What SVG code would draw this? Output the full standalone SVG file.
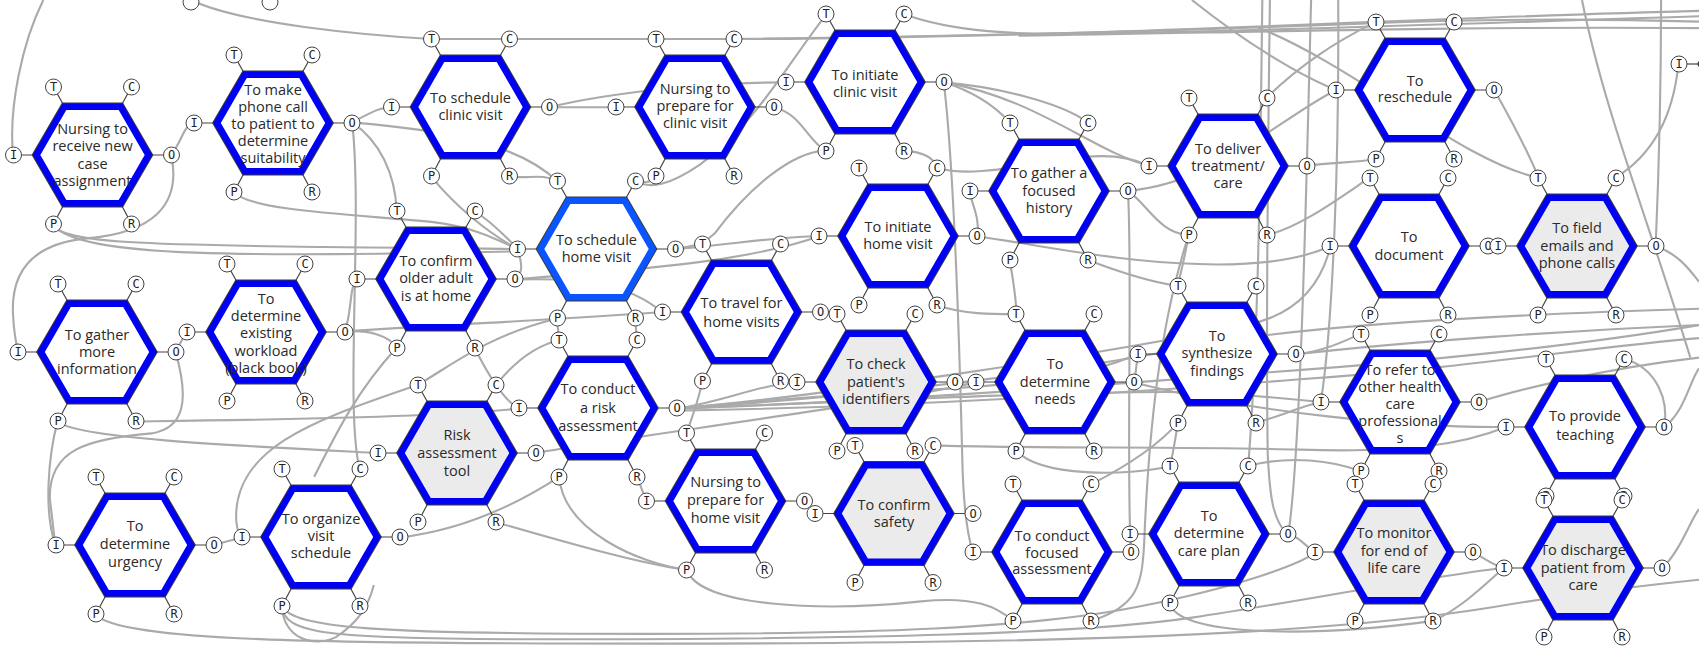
<svg xmlns="http://www.w3.org/2000/svg" xmlns:xlink="http://www.w3.org/1999/xlink" width="1699" height="649" viewBox="0 0 1699 649">
<style>
.ho{fill:none;stroke:#3a3a3a;stroke-width:8.5;stroke-linejoin:miter}
.hb{fill:#fff;stroke:#0000f5;stroke-width:6.5;stroke-linejoin:miter}
.hl{fill:#fff;stroke:#0a55ff;stroke-width:6.5;stroke-linejoin:miter}
.hgr{fill:#ebebeb;stroke:#0000f5;stroke-width:6.5;stroke-linejoin:miter}
.hgn{fill:#fff;stroke:#1f8a1f;stroke-width:6.5}
.st{stroke:#444;stroke-width:1.2;fill:none}
.pc{fill:#fff;stroke:#444;stroke-width:1}
.pl{font-family:"DejaVu Sans Mono",monospace;font-size:12px;text-anchor:middle;fill:#222}
.nt{font-family:"Open Sans","Liberation Sans",sans-serif;font-size:14.5px;text-anchor:middle;fill:#2a2a2a}
#connectors path{fill:none;stroke:#aaa;stroke-width:1.95}
</style>
<defs>
<polygon id="hx" points="-56,0 -28,-48.3 28,-48.3 56,0 28,48.3 -28,48.3"/>
<path id="stubs" class="st" d="M-39,-68L-28,-48.3M39,-68L28,-48.3M-79,0L-56,0M79,0L56,0M-39,69L-28,48.3M39,69L28,48.3"/>
<g id="ports">
<circle class="pc" cx="-39" cy="-68" r="8"/><circle class="pc" cx="39" cy="-68" r="8"/>
<circle class="pc" cx="-79" cy="0" r="8"/><circle class="pc" cx="79" cy="0" r="8"/>
<circle class="pc" cx="-39" cy="69" r="8"/><circle class="pc" cx="39" cy="69" r="8"/>
<text class="pl" x="-39" y="-63.7">T</text><text class="pl" x="39" y="-63.7">C</text>
<text class="pl" x="-79" y="4.3">I</text><text class="pl" x="79" y="4.3">O</text>
<text class="pl" x="-39" y="73.3">P</text><text class="pl" x="39" y="73.3">R</text>
</g>
</defs>
<rect width="1699" height="649" fill="#fff"/>
<g id="connectors" transform="scale(1.08355)">
<path d="M183,3 C230,22 330,32 398,36"/>
<path d="M398,36 L470,36 L605,36 L677,36 C800,36 900,33 1000,30 C1200,24 1400,14 1568,10"/>
<path d="M834,13 C880,30 940,32 1000,31 C1200,28 1400,20 1568,15"/>
<path d="M677,36 C850,34 1050,30 1250,22 C1400,16 1500,18 1568,20"/>
<path d="M940,33 C1150,30 1350,24 1568,26"/>
<path d="M40,0 C20,40 8,100 12,143"/>
<path d="M158,143 C168,130 170,115 179,113"/>
<path d="M158,143 C168,190 140,215 80,220 C30,225 10,250 12,290 C13,310 15,318 17,325"/>
<path d="M49,207 C55,225 150,226 300,228 C400,229 450,229 478,230"/>
<path d="M49,207 C70,240 250,236 478,232"/>
<path d="M325,113 C340,105 350,99 361,99"/>
<path d="M507,99 L568,99"/>
<path d="M507,99 C560,86 650,76 725,76"/>
<path d="M714,99 C740,105 745,130 762,139"/>
<path d="M763,13 C729,55 701,111 646,152 C618,171 600,175 586,167"/>
<path d="M871,76 C920,80 980,95 1004,113"/>
<path d="M871,76 C900,85 920,100 932,113"/>
<path d="M871,76 C880,150 885,300 888,420 C889,470 893,495 898,510"/>
<path d="M871,76 C955,90 1010,140 1060,153"/>
<path d="M325,113 C380,118 470,125 514,167"/>
<path d="M325,113 C350,130 365,160 366,195"/>
<path d="M325,113 C335,200 318,380 332,433"/>
<path d="M470,163 C490,165 500,160 514,167"/>
<path d="M398,163 C420,190 450,215 478,230"/>
<path d="M438,195 C455,205 470,222 478,230"/>
<path d="M216,177 C230,195 330,198 400,205 C440,210 460,222 478,230"/>
<path d="M623,230 C680,225 720,218 756,218"/>
<path d="M623,230 L648,225"/>
<path d="M757,288 L772,290"/>
<path d="M720,352 L736,353"/>
<path d="M881,353 L901,353"/>
<path d="M742,462 L752,474"/>
<path d="M1047,353 L1050,327"/>
<path d="M1373,227 L1383,227"/>
<path d="M1360,510 C1370,515 1378,522 1388,524"/>
<path d="M514,294 L516,314"/>
<path d="M586,294 L588,314"/>
<path d="M648,352 C645,370 638,385 634,400"/>
<path d="M588,440 C592,450 594,458 597,462"/>
<path d="M458,482 C520,500 590,520 634,526"/>
<path d="M634,526 C645,560 760,565 850,555 C900,550 920,560 935,573"/>
<path d="M197,503 L223,496"/>
<path d="M162,325 L172,306"/>
<path d="M162,325 C175,370 170,395 140,400 C80,405 45,415 46,460 L51,503"/>
<path d="M53,389 C45,420 40,470 51,503"/>
<path d="M53,389 C70,405 230,412 349,418"/>
<path d="M125,389 C200,388 400,386 479,377"/>
<path d="M318,306 C325,290 322,262 330,258"/>
<path d="M318,306 C340,304 360,310 366,321"/>
<path d="M318,306 C400,300 520,295 611,288"/>
<path d="M438,321 C450,345 465,370 479,377"/>
<path d="M386,355 C300,385 215,410 218,480 C219,490 221,495 223,496"/>
<path d="M386,355 C420,335 450,310 514,294"/>
<path d="M458,355 C470,340 490,320 516,314"/>
<path d="M290,440 C310,400 330,360 366,321"/>
<path d="M369,496 C420,490 470,470 516,440"/>
<path d="M475,258 C540,256 580,262 611,288"/>
<path d="M475,258 C560,250 680,245 756,218"/>
<path d="M475,258 C485,250 480,240 478,230"/>
<path d="M625,377 C700,370 760,365 850,360 C950,355 1000,348 1050,327"/>
<path d="M625,377 C750,372 1000,360 1100,362 C1150,364 1190,368 1219,371"/>
<path d="M625,377 C760,368 950,350 1100,320 C1200,300 1400,290 1568,285"/>
<path d="M625,377 C760,365 1000,330 1150,300 C1200,290 1220,260 1228,227"/>
<path d="M625,377 C780,372 960,360 1150,345 C1300,335 1450,320 1568,300"/>
<path d="M625,379 C800,376 1000,366 1200,350 C1350,340 1470,320 1568,312"/>
<path d="M494,418 C600,400 800,375 901,353"/>
<path d="M625,377 C670,370 700,355 736,353"/>
<path d="M902,218 C950,225 1000,235 1050,240 C1150,250 1200,240 1228,227"/>
<path d="M902,218 C905,200 895,185 895,176"/>
<path d="M1041,176 C1060,190 1070,215 1097,217"/>
<path d="M1041,176 C1120,170 1180,110 1233,83"/>
<path d="M1206,153 C1230,150 1250,150 1270,147"/>
<path d="M1270,20 C1230,40 1200,60 1169,90"/>
<path d="M1100,0 C1150,40 1200,70 1233,83"/>
<path d="M1379,83 C1400,120 1410,140 1420,164"/>
<path d="M1528,227 C1550,235 1560,250 1568,260"/>
<path d="M1196,327 C1220,325 1240,315 1256,308"/>
<path d="M1196,327 C1300,315 1450,305 1568,300"/>
<path d="M1365,371 C1400,360 1480,340 1568,330"/>
<path d="M1047,353 C1150,380 1300,395 1390,394"/>
<path d="M1536,394 C1555,380 1560,350 1568,340"/>
<path d="M1189,493 C1200,495 1205,505 1214,510"/>
<path d="M1189,493 C1200,420 1205,200 1210,0"/>
<path d="M1080,557 C1085,585 1200,590 1323,573"/>
<path d="M88,567 C110,592 300,594 600,594 C900,594 1200,590 1380,560 C1450,548 1520,540 1568,535"/>
<path d="M260,559 C262,585 300,590 500,590 C800,590 1000,585 1100,570 C1200,555 1300,535 1388,524"/>
<path d="M260,559 C270,580 350,585 600,585 C800,585 950,580 1050,560 C1150,540 1200,520 1214,510"/>
<path d="M260,559 C262,590 290,598 310,588 C330,575 340,560 345,540"/>
<path d="M1044,510 L1043,493"/>
<path d="M1041,176 C1045,250 1040,400 1043,493"/>
<path d="M1097,217 C1070,300 1060,400 1056,500 C1054,540 1050,560 1007,573"/>
<path d="M1165,0 C1163,150 1162,300 1152,430"/>
<path d="M1172,0 C1170,150 1168,300 1170,420 C1172,460 1175,480 1188,493"/>
<path d="M1235,0 C1236,150 1230,300 1219,371"/>
<path d="M1499,331 C1530,340 1540,370 1536,394"/>
<path d="M1160,25 C1250,60 1350,150 1420,164"/>
<path d="M1460,0 C1480,100 1520,200 1560,330"/>
<path d="M1549,59 C1545,100 1530,140 1491,164"/>
<path d="M1533,0 C1533,80 1530,180 1528,227"/>
<path d="M1007,447 C1040,430 1070,410 1087,390"/>
<path d="M1087,390 C1085,405 1082,420 1080,430"/>
<path d="M1159,390 C1180,385 1200,375 1219,371"/>
<path d="M1152,430 C1190,420 1230,425 1256,435"/>
<path d="M1534,524 C1550,510 1560,480 1568,470"/>
<path d="M1323,573 C1350,560 1370,540 1388,524"/>
<path d="M938,416 C960,440 1040,440 1080,430"/>
<path d="M861,411 C950,414 1100,412 1200,415 C1300,418 1350,410 1390,394"/>
<path d="M516,440 C520,490 590,520 634,526"/>
<path d="M865,282 C890,290 915,290 938,290"/>
<path d="M932,240 C935,260 938,275 938,290"/>
<path d="M1004,240 C1030,250 1060,260 1087,264"/>
<path d="M1097,217 C1094,235 1090,250 1087,264"/>
<path d="M1169,217 C1200,210 1240,180 1264,164"/>
<path d="M605,163 C600,170 592,168 586,167"/>
<path d="M834,139 C850,140 862,145 865,155"/>
<path d="M762,139 C730,140 690,175 660,215 L648,225"/>
<path d="M865,155 C900,165 950,150 1000,145 C1030,142 1050,148 1060,153"/>
</g>
<g id="partial-top">
<circle class="pc" cx="191" cy="2" r="8"/><circle class="pc" cx="270" cy="2" r="8"/>
</g>
<g id="partial-right" transform="translate(1758,64)">
<path class="st" d="M-79,0L-56,0"/>
<use xlink:href="#hx" class="ho"/><use xlink:href="#hx" class="hgn"/>
<circle class="pc" cx="-79" cy="0" r="8"/><text class="pl" x="-79" y="4.3">I</text>
</g>
<g id="n1" transform="translate(92.5,155)"><use xlink:href="#stubs"/><use xlink:href="#hx" class="ho"/><use xlink:href="#hx" class="hb"/><use xlink:href="#ports"/><text class="nt" y="-21.1"><tspan x="0">Nursing to</tspan><tspan x="0" dy="17.4">receive new</tspan><tspan x="0" dy="17.4">case</tspan><tspan x="0" dy="17.4">assignment</tspan></text></g>
<g id="n2" transform="translate(273,123)"><use xlink:href="#stubs"/><use xlink:href="#hx" class="ho"/><use xlink:href="#hx" class="hb"/><use xlink:href="#ports"/><text class="nt" y="-28.5"><tspan x="0">To make</tspan><tspan x="0" dy="17.2">phone call</tspan><tspan x="0" dy="17.2">to patient to</tspan><tspan x="0" dy="17.2">determine</tspan><tspan x="0" dy="17.2">suitability</tspan></text></g>
<g id="n3" transform="translate(470.5,107)"><use xlink:href="#stubs"/><use xlink:href="#hx" class="ho"/><use xlink:href="#hx" class="hb"/><use xlink:href="#ports"/><text class="nt" y="-4.3"><tspan x="0">To schedule</tspan><tspan x="0" dy="17.4">clinic visit</tspan></text></g>
<g id="n4" transform="translate(436,279)"><use xlink:href="#stubs"/><use xlink:href="#hx" class="ho"/><use xlink:href="#hx" class="hb"/><use xlink:href="#ports"/><text class="nt" y="-13"><tspan x="0">To confirm</tspan><tspan x="0" dy="17.4">older adult</tspan><tspan x="0" dy="17.4">is at home</tspan></text></g>
<g id="n5" transform="translate(266,332)"><use xlink:href="#stubs"/><use xlink:href="#hx" class="ho"/><use xlink:href="#hx" class="hb"/><use xlink:href="#ports"/><text class="nt" y="-28.5"><tspan x="0">To</tspan><tspan x="0" dy="17.4">determine</tspan><tspan x="0" dy="17.4">existing</tspan><tspan x="0" dy="17.4">workload</tspan><tspan x="0" dy="17.4">(black book)</tspan></text></g>
<g id="n6" transform="translate(97,352)"><use xlink:href="#stubs"/><use xlink:href="#hx" class="ho"/><use xlink:href="#hx" class="hb"/><use xlink:href="#ports"/><text class="nt" y="-12.2"><tspan x="0">To gather</tspan><tspan x="0" dy="17.2">more</tspan><tspan x="0" dy="17.2">information</tspan></text></g>
<g id="n7" transform="translate(135,545)"><use xlink:href="#stubs"/><use xlink:href="#hx" class="ho"/><use xlink:href="#hx" class="hb"/><use xlink:href="#ports"/><text class="nt" y="-14"><tspan x="0">To</tspan><tspan x="0" dy="18">determine</tspan><tspan x="0" dy="18">urgency</tspan></text></g>
<g id="n8" transform="translate(321,537)"><use xlink:href="#stubs"/><use xlink:href="#hx" class="ho"/><use xlink:href="#hx" class="hb"/><use xlink:href="#ports"/><text class="nt" y="-13.5"><tspan x="0">To organize</tspan><tspan x="0" dy="17">visit</tspan><tspan x="0" dy="17">schedule</tspan></text></g>
<g id="n9" transform="translate(457,453)"><use xlink:href="#stubs"/><use xlink:href="#hx" class="ho"/><use xlink:href="#hx" class="hgr"/><use xlink:href="#ports"/><text class="nt" y="-12.6"><tspan x="0">Risk</tspan><tspan x="0" dy="18">assessment</tspan><tspan x="0" dy="18">tool</tspan></text></g>
<g id="n10" transform="translate(695,107)"><use xlink:href="#stubs"/><use xlink:href="#hx" class="ho"/><use xlink:href="#hx" class="hb"/><use xlink:href="#ports"/><text class="nt" y="-13.5"><tspan x="0">Nursing to</tspan><tspan x="0" dy="17">prepare for</tspan><tspan x="0" dy="17">clinic visit</tspan></text></g>
<g id="n11" transform="translate(865,82)"><use xlink:href="#stubs"/><use xlink:href="#hx" class="ho"/><use xlink:href="#hx" class="hb"/><use xlink:href="#ports"/><text class="nt" y="-2"><tspan x="0">To initiate</tspan><tspan x="0" dy="16.7">clinic visit</tspan></text></g>
<g id="n12" transform="translate(596.5,249)"><use xlink:href="#stubs"/><use xlink:href="#hx" class="ho"/><use xlink:href="#hx" class="hl"/><use xlink:href="#ports"/><text class="nt" y="-4.5"><tspan x="0">To schedule</tspan><tspan x="0" dy="17.4">home visit</tspan></text></g>
<g id="n13" transform="translate(898,236)"><use xlink:href="#stubs"/><use xlink:href="#hx" class="ho"/><use xlink:href="#hx" class="hb"/><use xlink:href="#ports"/><text class="nt" y="-4.3"><tspan x="0">To initiate</tspan><tspan x="0" dy="17.4">home visit</tspan></text></g>
<g id="n14" transform="translate(1049,191)"><use xlink:href="#stubs"/><use xlink:href="#hx" class="ho"/><use xlink:href="#hx" class="hb"/><use xlink:href="#ports"/><text class="nt" y="-12.6"><tspan x="0">To gather a</tspan><tspan x="0" dy="17.5">focused</tspan><tspan x="0" dy="17.5">history</tspan></text></g>
<g id="n15" transform="translate(1228,166)"><use xlink:href="#stubs"/><use xlink:href="#hx" class="ho"/><use xlink:href="#hx" class="hb"/><use xlink:href="#ports"/><text class="nt" y="-12"><tspan x="0">To deliver</tspan><tspan x="0" dy="17.2">treatment/</tspan><tspan x="0" dy="17.2">care</tspan></text></g>
<g id="n16" transform="translate(1415,90)"><use xlink:href="#stubs"/><use xlink:href="#hx" class="ho"/><use xlink:href="#hx" class="hb"/><use xlink:href="#ports"/><text class="nt" y="-4.3"><tspan x="0">To</tspan><tspan x="0" dy="16.7">reschedule</tspan></text></g>
<g id="n17" transform="translate(1409,246)"><use xlink:href="#stubs"/><use xlink:href="#hx" class="ho"/><use xlink:href="#hx" class="hb"/><use xlink:href="#ports"/><text class="nt" y="-3.7"><tspan x="0">To</tspan><tspan x="0" dy="17.7">document</tspan></text></g>
<g id="n18" transform="translate(1577,246)"><use xlink:href="#stubs"/><use xlink:href="#hx" class="ho"/><use xlink:href="#hx" class="hgr"/><use xlink:href="#ports"/><text class="nt" y="-12.6"><tspan x="0">To field</tspan><tspan x="0" dy="17.2">emails and</tspan><tspan x="0" dy="17.2">phone calls</tspan></text></g>
<g id="n19" transform="translate(741.5,312)"><use xlink:href="#stubs"/><use xlink:href="#hx" class="ho"/><use xlink:href="#hx" class="hb"/><use xlink:href="#ports"/><text class="nt" y="-3.6"><tspan x="0">To travel for</tspan><tspan x="0" dy="18.4">home visits</tspan></text></g>
<g id="n20" transform="translate(598,408)"><use xlink:href="#stubs"/><use xlink:href="#hx" class="ho"/><use xlink:href="#hx" class="hb"/><use xlink:href="#ports"/><text class="nt" y="-13.7"><tspan x="0">To conduct</tspan><tspan x="0" dy="18.3">a risk</tspan><tspan x="0" dy="18.3">assessment</tspan></text></g>
<g id="n21" transform="translate(876,382)"><use xlink:href="#stubs"/><use xlink:href="#hx" class="ho"/><use xlink:href="#hx" class="hgr"/><use xlink:href="#ports"/><text class="nt" y="-12.7"><tspan x="0">To check</tspan><tspan x="0" dy="17.4">patient's</tspan><tspan x="0" dy="17.4">identifiers</tspan></text></g>
<g id="n22" transform="translate(1055,382)"><use xlink:href="#stubs"/><use xlink:href="#hx" class="ho"/><use xlink:href="#hx" class="hb"/><use xlink:href="#ports"/><text class="nt" y="-12.7"><tspan x="0">To</tspan><tspan x="0" dy="17.4">determine</tspan><tspan x="0" dy="17.4">needs</tspan></text></g>
<g id="n23" transform="translate(725.5,501)"><use xlink:href="#stubs"/><use xlink:href="#hx" class="ho"/><use xlink:href="#hx" class="hb"/><use xlink:href="#ports"/><text class="nt" y="-13.7"><tspan x="0">Nursing to</tspan><tspan x="0" dy="18">prepare for</tspan><tspan x="0" dy="18">home visit</tspan></text></g>
<g id="n24" transform="translate(894,513.5)"><use xlink:href="#stubs"/><use xlink:href="#hx" class="ho"/><use xlink:href="#hx" class="hgr"/><use xlink:href="#ports"/><text class="nt" y="-3.5"><tspan x="0">To confirm</tspan><tspan x="0" dy="17.3">safety</tspan></text></g>
<g id="n25" transform="translate(1052,552)"><use xlink:href="#stubs"/><use xlink:href="#hx" class="ho"/><use xlink:href="#hx" class="hb"/><use xlink:href="#ports"/><text class="nt" y="-11.3"><tspan x="0">To conduct</tspan><tspan x="0" dy="16.8">focused</tspan><tspan x="0" dy="16.8">assessment</tspan></text></g>
<g id="n26" transform="translate(1217,354)"><use xlink:href="#stubs"/><use xlink:href="#hx" class="ho"/><use xlink:href="#hx" class="hb"/><use xlink:href="#ports"/><text class="nt" y="-13"><tspan x="0">To</tspan><tspan x="0" dy="17.4">synthesize</tspan><tspan x="0" dy="17.4">findings</tspan></text></g>
<g id="n27" transform="translate(1400,402)"><use xlink:href="#stubs"/><use xlink:href="#hx" class="ho"/><use xlink:href="#hx" class="hb"/><use xlink:href="#ports"/><text class="nt" y="-27"><tspan x="0">To refer to</tspan><tspan x="0" dy="17.1">other health</tspan><tspan x="0" dy="17.1">care</tspan><tspan x="0" dy="17.1">professional</tspan><tspan x="0" dy="17.1">s</tspan></text></g>
<g id="n28" transform="translate(1585,427)"><use xlink:href="#stubs"/><use xlink:href="#hx" class="ho"/><use xlink:href="#hx" class="hb"/><use xlink:href="#ports"/><text class="nt" y="-6"><tspan x="0">To provide</tspan><tspan x="0" dy="19">teaching</tspan></text></g>
<g id="n29" transform="translate(1209,534)"><use xlink:href="#stubs"/><use xlink:href="#hx" class="ho"/><use xlink:href="#hx" class="hb"/><use xlink:href="#ports"/><text class="nt" y="-13"><tspan x="0">To</tspan><tspan x="0" dy="17.4">determine</tspan><tspan x="0" dy="17.4">care plan</tspan></text></g>
<g id="n30" transform="translate(1394,552)"><use xlink:href="#stubs"/><use xlink:href="#hx" class="ho"/><use xlink:href="#hx" class="hgr"/><use xlink:href="#ports"/><text class="nt" y="-13.7"><tspan x="0">To monitor</tspan><tspan x="0" dy="17.2">for end of</tspan><tspan x="0" dy="17.2">life care</tspan></text></g>
<g id="n31" transform="translate(1583,568)"><use xlink:href="#stubs"/><use xlink:href="#hx" class="ho"/><use xlink:href="#hx" class="hgr"/><use xlink:href="#ports"/><text class="nt" y="-13"><tspan x="0">To discharge</tspan><tspan x="0" dy="17.5">patient from</tspan><tspan x="0" dy="17.5">care</tspan></text></g>
</svg>
